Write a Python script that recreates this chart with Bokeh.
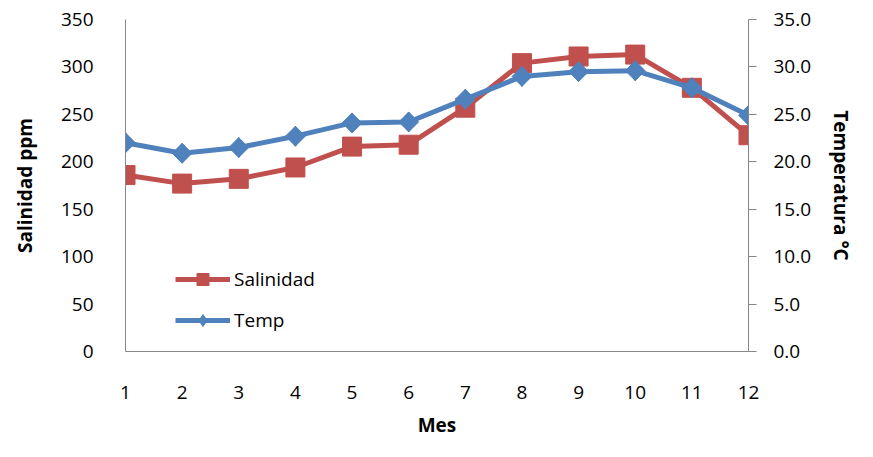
from bokeh.plotting import figure
from bokeh.models import Range1d, LinearAxis, FixedTicker, NumeralTickFormatter, Legend
from bokeh.embed import file_html
from bokeh.resources import INLINE
import numpy as np

meses = [1, 2, 3, 4, 5, 6, 7, 8, 9, 10, 11, 12]
salinidad = [186, 177, 182, 194, 216, 218, 257, 304, 311, 313, 278, 228]
temp = [22.0, 20.9, 21.5, 22.7, 24.1, 24.2, 26.6, 29.0, 29.5, 29.6, 27.8, 24.9]
sal_ticks = [0, 50, 100, 150, 200, 250, 300, 350]
temp_ticks = [0, 5, 10, 15, 20, 25, 30, 35]

RED = "#C0504D"
BLUE = "#4F81BD"
AX = "#868686"
FONT = "Open Sans"
FS = "19px"

p = figure(width=857, height=441, output_backend="svg", toolbar_location=None,
           x_range=Range1d(1, 12), y_range=Range1d(0, 350),
           min_border_left=125, min_border_right=104, min_border_top=19, min_border_bottom=90)
p.outline_line_color = None
p.xgrid.visible = False
p.ygrid.visible = False
p.extra_y_ranges = {"temp": Range1d(0, 35)}

# left axis
ya = p.yaxis[0]
ya.ticker = FixedTicker(ticks=sal_ticks)
ya.axis_line_color = AX
ya.major_tick_line_color = None
ya.minor_tick_line_color = None
ya.major_label_standoff = 26
ya.major_label_text_font = FONT
ya.major_label_text_font_size = FS
ya.major_label_text_color = "black"
ya.axis_label = "Salinidad ppm"
ya.axis_label_text_font = FONT
ya.axis_label_text_font_style = "bold"
ya.axis_label_text_font_size = FS
ya.axis_label_text_color = "black"
ya.axis_label_standoff = 20

# bottom axis
xa = p.xaxis[0]
xa.ticker = FixedTicker(ticks=meses)
xa.axis_line_color = AX
xa.major_tick_line_color = None
xa.minor_tick_line_color = None
xa.major_label_standoff = 28
xa.major_label_text_font = FONT
xa.major_label_text_font_size = FS
xa.major_label_text_color = "black"
xa.axis_label = "Mes"
xa.axis_label_text_font = FONT
xa.axis_label_text_font_style = "bold"
xa.axis_label_text_font_size = FS
xa.axis_label_text_color = "black"
xa.axis_label_standoff = 10

# right axis
ra = LinearAxis(y_range_name="temp", ticker=FixedTicker(ticks=temp_ticks),
                formatter=NumeralTickFormatter(format="0.0"))
ra.axis_line_color = AX
ra.major_tick_line_color = AX
ra.major_tick_out = 8
ra.major_tick_in = 0
ra.minor_tick_line_color = None
ra.major_label_standoff = 17
ra.major_label_text_font = FONT
ra.major_label_text_font_size = FS
ra.major_label_text_color = "black"
ra.axis_label = "Temperatura °C"
ra.axis_label_text_font = FONT
ra.axis_label_text_font_style = "bold"
ra.axis_label_text_font_size = FS
ra.axis_label_text_color = "black"
ra.axis_label_standoff = 14
p.add_layout(ra, "right")

l1 = p.line(meses, salinidad, line_color=RED, line_width=5)
m1 = p.scatter(meses, salinidad, marker="square", size=19, fill_color=RED, line_color=RED)
l2 = p.line(meses, temp, line_color=BLUE, line_width=5, y_range_name="temp")
# diamond glyph (also shown in the legend), covered by a rotated square of the same colour
m2_leg = p.scatter(meses, temp, marker="diamond", size=20, fill_color=BLUE, line_color=BLUE,
                   y_range_name="temp")
m2 = p.scatter(meses, temp, marker="square", angle=np.pi / 4, size=14,
               fill_color=BLUE, line_color=BLUE, y_range_name="temp")

legend = Legend(items=[("Salinidad", [l1, m1]), ("Temp", [l2, m2_leg])],
                location=(50, 16), padding=0, margin=0, spacing=11,
                glyph_width=55, glyph_height=30, label_height=30, label_standoff=4,
                label_text_font=FONT, label_text_font_size=FS, label_text_color="black",
                border_line_color=None, background_fill_alpha=0)
p.add_layout(legend)

open("out.html", "w").write(file_html(p, INLINE))
